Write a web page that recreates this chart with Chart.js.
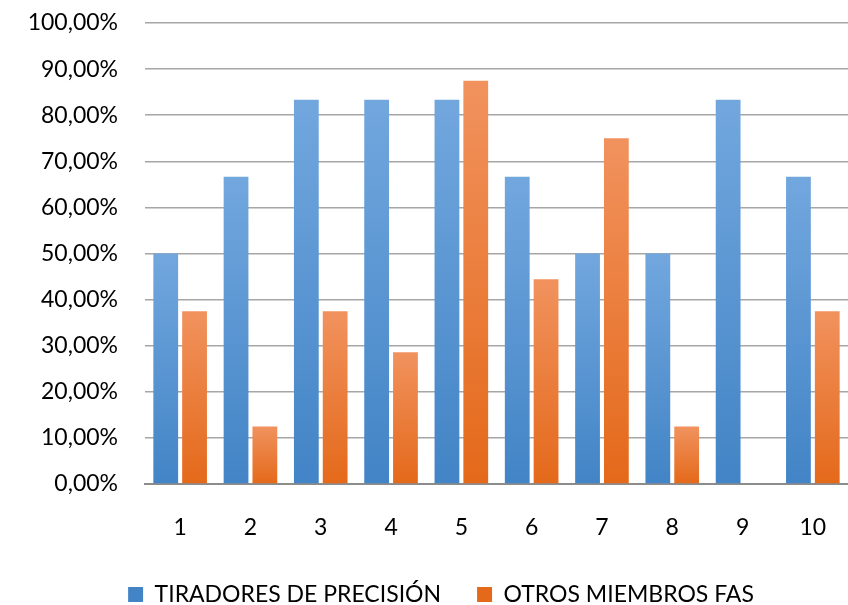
<!DOCTYPE html>
<html>
<head>
<meta charset="utf-8">
<script src="https://cdn.jsdelivr.net/npm/chart.js@4/dist/chart.umd.min.js"></script>
<style>
  html, body { margin: 0; padding: 0; background: #ffffff; }
  #wrap { width: 848px; height: 605px; }
</style>
</head>
<body>
<div id="wrap"><canvas id="c" width="848" height="605"></canvas></div>
<script>
const categories = ['1', '2', '3', '4', '5', '6', '7', '8', '9', '10'];
const tiradores = [50.00, 66.67, 83.33, 83.33, 83.33, 66.67, 50.00, 50.00, 83.33, 66.67];
const otros = [37.50, 12.50, 37.50, 28.57, 87.50, 44.44, 75.00, 12.50, 0.00, 37.50];
const yTicks = [0, 10, 20, 30, 40, 50, 60, 70, 80, 90, 100];
const seriesNames = ['TIRADORES DE PRECISIÓN', 'OTROS MIEMBROS FAS'];

const FONT = 'Lato, "Open Sans", sans-serif';
const LEGEND_GAP = 36;

// Vertical gradient spanning each bar: lighter top, deeper bottom
function barGradient(topColor, bottomColor) {
  return function (ctx) {
    const chart = ctx.chart;
    if (!chart.chartArea || ctx.type !== 'data') return bottomColor;
    const y = chart.scales.y;
    const top = y.getPixelForValue(ctx.raw);
    const base = y.getPixelForValue(0);
    if (!isFinite(top) || Math.abs(base - top) < 1) return bottomColor;
    const g = chart.ctx.createLinearGradient(0, top, 0, base);
    g.addColorStop(0, topColor);
    g.addColorStop(1, bottomColor);
    return g;
  };
}

function pct(v) {
  return v.toFixed(2).replace('.', ',') + '%';
}

// Keep the wide horizontal gap between legend items without a tall legend box,
// and nudge the legend row a little to the right
const compactLegend = {
  id: 'compactLegend',
  afterInit(chart) {
    const legend = chart.legend;
    if (!legend) return;
    const fit = legend.fit.bind(legend);
    legend.fit = function () {
      fit();
      this.height = 58;
    };
  },
  afterLayout(chart) {
    const legend = chart.legend;
    if (!legend) return;
    legend.left += 17;
    legend.right += 17;
  }
};

const chart = new Chart(document.getElementById('c'), {
  type: 'bar',
  data: {
    labels: categories,
    datasets: [
      {
        label: seriesNames[0],
        data: tiradores,
        backgroundColor: barGradient('#72a7de', '#4284c6'),
        borderWidth: 0,
        categoryPercentage: 0.82,
        barPercentage: 0.86
      },
      {
        label: seriesNames[1],
        data: otros,
        backgroundColor: barGradient('#f1925e', '#e4691a'),
        borderWidth: 0,
        categoryPercentage: 0.82,
        barPercentage: 0.86
      }
    ]
  },
  plugins: [compactLegend],
  options: {
    responsive: false,
    animation: false,
    devicePixelRatio: 1,
    layout: { padding: { left: 0, right: 0, top: 0, bottom: 0 } },
    scales: {
      x: {
        afterFit: (scale) => {
          scale.height = 63;
          scale.paddingLeft = 0;
          scale.paddingRight = 0;
        },
        grid: { display: false, drawTicks: false },
        border: { display: true, color: '#8c8c8c', width: 2 },
        ticks: {
          color: '#000000',
          font: { family: FONT, size: 23 },
          padding: 30
        }
      },
      y: {
        min: 0,
        max: 100,
        afterBuildTicks: (scale) => { scale.ticks = yTicks.map(v => ({ value: v })); },
        afterFit: (scale) => {
          scale.width = 145;
          scale.paddingTop = 23;
          scale.paddingBottom = 0;
        },
        grid: { color: '#a6a6a6', lineWidth: 1.5, drawTicks: false },
        border: { display: false },
        ticks: {
          color: '#000000',
          font: { family: FONT, size: 23 },
          padding: 27,
          callback: (v) => pct(v)
        }
      }
    },
    plugins: {
      tooltip: { enabled: false },
      legend: {
        position: 'bottom',
        labels: {
          color: '#000000',
          font: { family: FONT, size: 23 },
          boxWidth: 15,
          boxHeight: 15,
          padding: LEGEND_GAP
        }
      }
    }
  }
});
</script>
</body>
</html>
